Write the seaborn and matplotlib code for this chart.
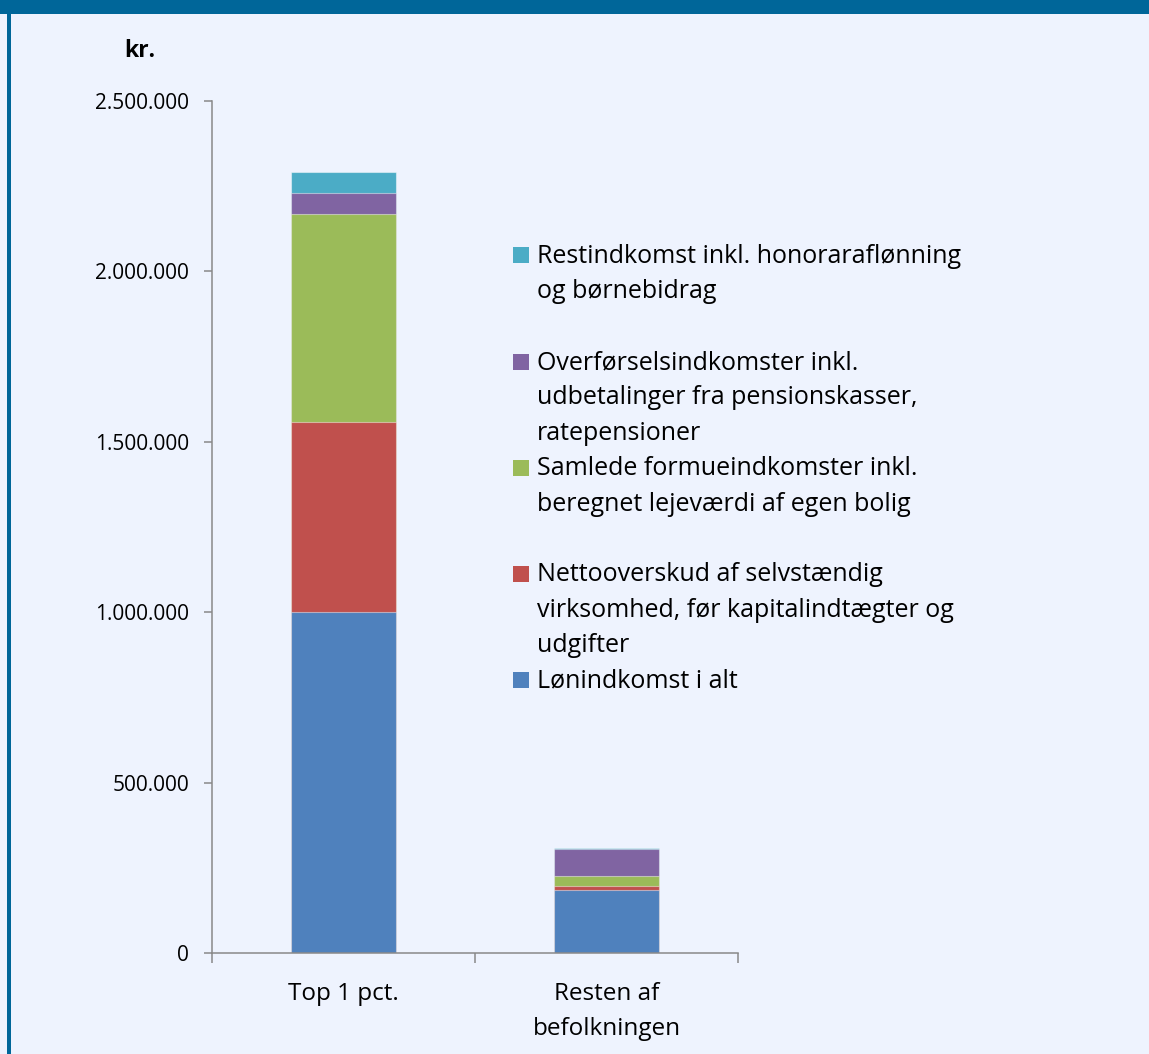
import matplotlib
matplotlib.use("Agg")
import matplotlib.pyplot as plt
from matplotlib.patches import Rectangle
import seaborn as sns
import pandas as pd
import numpy as np

# ---------------- data ----------------
groups = ["Top 1 pct.", "Resten af\nbefolkningen"]
series_names = [
    "Lønindkomst i alt",
    "Nettooverskud af selvstændig\nvirksomhed, før kapitalindtægter og\nudgifter",
    "Samlede formueindkomster inkl.\nberegnet lejeværdi af egen bolig",
    "Overførselsindkomster inkl.\nudbetalinger fra pensionskasser,\nratepensioner",
    "Restindkomst inkl. honoraraflønning\nog børnebidrag",
]
loen = [1000000, 186500]
netto = [558000, 11700]
formue = [610000, 28400]
overfoersel = [62000, 78300]
rest = [63000, 3000]
series_colors = ["#4F81BD", "#C0504D", "#9BBB59", "#8064A2", "#4BACC6"]
y_ticks = [0, 500000, 1000000, 1500000, 2000000, 2500000]
y_unit = "kr."

# ---------------- style ----------------
W, H = 1149, 1054
BG = "#EEF3FE"
FRAME = "#006699"
AXC = "#898989"
sns.set_theme(style="white")
plt.rcParams["font.family"] = ["Open Sans", "DejaVu Sans"]

fig = plt.figure(figsize=(W / 100, H / 100), dpi=100, facecolor=BG)

def px(x, y):
    return x / W, 1 - y / H

# frame decorations
fig.patches.append(Rectangle((0, 1 - 14 / H), 1, 14 / H, transform=fig.transFigure,
                             facecolor=FRAME, edgecolor="none", zorder=0))
fig.patches.append(Rectangle((7 / W, 0), 4 / W, 1 - 14 / H, transform=fig.transFigure,
                             facecolor=FRAME, edgecolor="none", zorder=0))

left, right, top, bottom = 212, 738, 101, 953.3
ax = fig.add_axes([left / W, 1 - bottom / H, (right - left) / W, (bottom - top) / H])
ax.set_facecolor(BG)

# stacked bars via cumulative overlays
values = np.array([loen, netto, formue, overfoersel, rest], dtype=float)
cum = values.cumsum(axis=0)
for i in range(len(series_names) - 1, -1, -1):
    df = pd.DataFrame({"group": groups, "value": cum[i]})
    sns.barplot(data=df, x="group", y="value", color=series_colors[i], saturation=1,
                width=0.4, ax=ax, edgecolor=(1, 1, 1, 0.45), linewidth=0.8,
                errorbar=None)

ax.set_xlabel("")
ax.set_ylabel("")
ax.set_xlim(-0.5, 1.5)
ax.set_ylim(0, 2500000)

for s in ["top", "right"]:
    ax.spines[s].set_visible(False)
for s in ["left", "bottom"]:
    ax.spines[s].set_color(AXC)
    ax.spines[s].set_linewidth(1.1)

ax.set_yticks(y_ticks)
ax.set_yticklabels([f"{v:,.0f}".replace(",", ".") for v in y_ticks])
ax.tick_params(axis="y", direction="out", length=5.8, width=1.1, color=AXC,
               pad=10.8, labelsize=15, labelcolor="black", left=True)

ax.set_xticks([-0.5, 0.5, 1.5])
ax.set_xticklabels([])
ax.tick_params(axis="x", which="major", direction="out", length=7.2, width=1.1,
               color=AXC, bottom=True)
ax.set_xticks([0, 1], minor=True)
ax.set_xticklabels(groups, minor=True, linespacing=1.6)
ax.tick_params(axis="x", which="minor", length=0, pad=21, labelsize=17.5,
               labelcolor="black")

# unit label
fig.text(*px(140, 57), y_unit, ha="center", va="baseline", fontsize=16.5,
         fontweight="bold", color="black")

# legend (top entry first)
leg_first_center = 255.3
leg_step = 106.2
line_step = 35.5
for k, i in enumerate(range(len(series_names) - 1, -1, -1)):
    yc = leg_first_center + k * leg_step
    fig.patches.append(Rectangle(px(513, yc + 8), 16 / W, 16 / H,
                                 transform=fig.transFigure,
                                 facecolor=series_colors[i], edgecolor="none"))
    for j, line in enumerate(series_names[i].split("\n")):
        fig.text(*px(537, yc + 7.5 + j * line_step), line, ha="left",
                 va="baseline", fontsize=18, color="black")

fig.savefig("out.png", dpi=100, facecolor=BG)
